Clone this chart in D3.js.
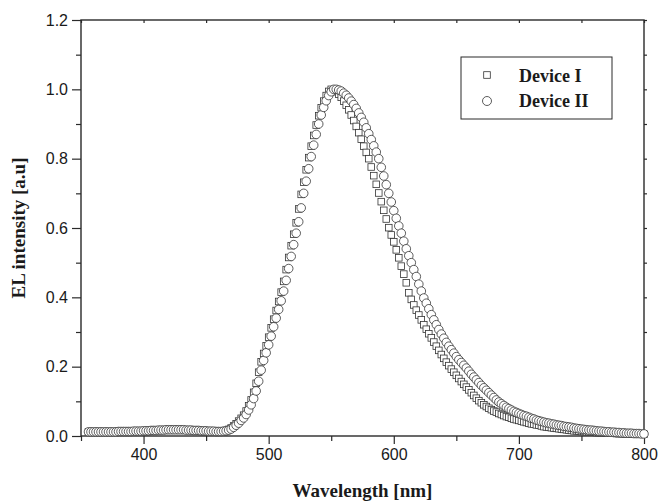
<!DOCTYPE html>
<html>
<head>
<meta charset="utf-8">
<script src="https://cdn.jsdelivr.net/npm/d3@7/dist/d3.min.js"></script>
<style>
  html, body { margin: 0; padding: 0; background: #fff; }
  svg { display: block; }
</style>
</head>
<body>
<svg id="chart" width="660" height="502"></svg>
<script>
// ---------------- data ----------------
const wavelengths = [
  356,358,360,362,364,366,368,370,372,374,
  376,378,380,382,384,386,388,390,392,394,
  396,398,400,402,404,406,408,410,412,414,
  416,418,420,422,424,426,428,430,432,434,
  436,438,440,442,444,446,448,450,452,454,
  456,458,460,462,464,466,468,470,472,474,
  476,478,480,482,484,486,488,490,492,494,
  496,498,500,502,504,506,508,510,512,514,
  516,518,520,522,524,526,528,530,532,534,
  536,538,540,542,544,546,548,550,552,554,
  556,558,560,562,564,566,568,570,572,574,
  576,578,580,582,584,586,588,590,592,594,
  596,598,600,602,604,606,608,610,612,614,
  616,618,620,622,624,626,628,630,632,634,
  636,638,640,642,644,646,648,650,652,654,
  656,658,660,662,664,666,668,670,672,674,
  676,678,680,682,684,686,688,690,692,694,
  696,698,700,702,704,706,708,710,712,714,
  716,718,720,722,724,726,728,730,732,734,
  736,738,740,742,744,746,748,750,752,754,
  756,758,760,762,764,766,768,770,772,774,
  776,778,780,782,784,786,788,790,792,794,
  796,798,800
];
const deviceI = [
  .012,.012,.012,.012,.012,.012,.012,.012,.012,.012,
  .012,.012,.013,.013,.013,.013,.013,.013,.014,.014,
  .014,.014,.015,.015,.015,.016,.016,.016,.017,.017,
  .017,.018,.018,.018,.018,.018,.018,.018,.018,.017,
  .017,.017,.016,.016,.016,.015,.015,.015,.014,.014,
  .014,.013,.013,.013,.014,.016,.019,.023,.029,.035,
  .043,.051,.060,.072,.087,.104,.126,.152,.184,.214,
  .238,.260,.285,.312,.337,.362,.388,.415,.446,.480,
  .515,.549,.582,.615,.655,.697,.732,.768,.803,.836,
  .867,.897,.924,.947,.966,.982,.994,1.000,.998,.993,
  .986,.977,.966,.954,.941,.926,.910,.893,.875,.856,
  .836,.818,.800,.776,.751,.726,.701,.676,.651,.626,
  .601,.580,.560,.537,.514,.490,.467,.442,.413,.394,
  .378,.363,.349,.335,.321,.308,.295,.283,.271,.259,
  .247,.235,.224,.213,.203,.193,.184,.175,.166,.157,
  .149,.141,.133,.125,.117,.109,.102,.096,.090,.085,
  .080,.076,.072,.069,.065,.062,.059,.056,.054,.051,
  .049,.047,.045,.043,.041,.039,.037,.035,.034,.032,
  .031,.029,.027,.026,.025,.024,.023,.022,.021,.020,
  .019,.018,.017,.016,.015,.015,.014,.013,.013,.012,
  .012,.011,.011,.010,.010,.009,.009,.009,.008,.008,
  .008,.007,.007,.007,.006,.006,.006,.006,.005,.005,
  .005,.005,.005
];
const deviceII = [
  .012,.012,.012,.012,.012,.012,.012,.012,.012,.012,
  .012,.012,.013,.013,.013,.013,.013,.013,.014,.014,
  .014,.014,.015,.015,.015,.016,.016,.016,.017,.017,
  .017,.018,.018,.018,.018,.018,.018,.018,.018,.017,
  .017,.017,.016,.016,.016,.015,.015,.015,.014,.014,
  .014,.013,.013,.013,.014,.015,.017,.020,.025,.031,
  .037,.045,.052,.062,.075,.090,.108,.130,.158,.190,
  .218,.240,.263,.288,.315,.340,.365,.390,.418,.449,
  .483,.518,.552,.585,.618,.658,.700,.735,.771,.806,
  .839,.870,.900,.926,.948,.967,.982,.993,1.000,1.000,
  .998,.995,.989,.983,.975,.966,.956,.945,.932,.919,
  .905,.889,.872,.855,.837,.819,.800,.775,.750,.725,
  .700,.675,.650,.628,.606,.585,.562,.540,.520,.500,
  .480,.460,.438,.418,.398,.383,.367,.350,.335,.321,
  .307,.294,.282,.270,.259,.249,.239,.229,.220,.212,
  .204,.196,.187,.178,.170,.162,.154,.146,.139,.132,
  .125,.118,.111,.104,.098,.093,.088,.083,.079,.075,
  .071,.068,.065,.062,.059,.057,.054,.051,.049,.046,
  .044,.042,.040,.038,.037,.035,.034,.032,.031,.030,
  .028,.027,.026,.025,.023,.022,.021,.020,.019,.018,
  .017,.017,.016,.015,.014,.014,.013,.012,.012,.011,
  .011,.010,.010,.009,.009,.008,.008,.008,.007,.007,
  .007,.006,.006
];
const seriesNames = ["Device I", "Device II"];
const xTicks = [400, 500, 600, 700, 800];
const xMinorTicks = [350, 450, 550, 650, 750];
const yTicks = [0.0, 0.2, 0.4, 0.6, 0.8, 1.0, 1.2];
const yMinorTicks = [0.1, 0.3, 0.5, 0.7, 0.9, 1.1];
const xTitle = "Wavelength [nm]";
const yTitle = "EL intensity [a.u]";

// ---------------- layout ----------------
const svg = d3.select("#chart");
const pL = 81, pR = 644, pT = 20, pB = 436;
const x = d3.scaleLinear().domain([350, 800]).range([pL, pR]);
const y = d3.scaleLinear().domain([0, 1.2]).range([pB, pT]);
const ink = "#2a2a2a";
const serif = "'Liberation Serif', 'Times New Roman', serif";
const sans = "'Liberation Sans', Arial, sans-serif";

// axes
const gx = svg.append("g").attr("transform", `translate(0,${pB})`)
  .call(d3.axisBottom(x).tickValues(xTicks).tickSize(8).tickPadding(5).tickFormat(d3.format("d")));
const gxm = svg.append("g").attr("transform", `translate(0,${pB})`)
  .call(d3.axisBottom(x).tickValues(xMinorTicks).tickSize(5).tickFormat(""));
const gy = svg.append("g").attr("transform", `translate(${pL},0)`)
  .call(d3.axisLeft(y).tickValues(yTicks).tickSize(9).tickPadding(4).tickFormat(d3.format(".1f")));
const gym = svg.append("g").attr("transform", `translate(${pL},0)`)
  .call(d3.axisLeft(y).tickValues(yMinorTicks).tickSize(5).tickFormat(""));
const gt = svg.append("g").attr("transform", `translate(0,${pT})`)
  .call(d3.axisBottom(x).tickValues(xTicks.concat(xMinorTicks)).tickSize(3).tickFormat(""));
const gr = svg.append("g").attr("transform", `translate(${pR},0)`)
  .call(d3.axisRight(y).tickValues(yTicks.concat(yMinorTicks)).tickSize(3).tickFormat(""));

[gx, gxm, gy, gym, gt, gr].forEach(g => {
  g.select(".domain").remove();
  g.selectAll(".tick line").attr("stroke", ink).attr("stroke-width", 1.2);
  g.selectAll(".tick text").attr("fill", "#1a1a1a")
    .style("font-family", sans).style("font-size", "16px");
});

// frame
svg.append("rect").attr("x", pL).attr("y", pT)
  .attr("width", pR - pL).attr("height", pB - pT)
  .attr("fill", "none").attr("stroke", ink).attr("stroke-width", 1.4);

// data markers
const dI = wavelengths.map((w, i) => ({ w, v: deviceI[i] }));
const dII = wavelengths.map((w, i) => ({ w, v: deviceII[i] }));
const sq = 6.6;
svg.append("g").selectAll("rect").data(dI).join("rect")
  .attr("x", d => x(d.w) - sq / 2).attr("y", d => y(d.v) - sq / 2)
  .attr("width", sq).attr("height", sq)
  .attr("fill", "#fff").attr("stroke", "#333").attr("stroke-width", 0.8);
svg.append("g").selectAll("circle").data(dII).join("circle")
  .attr("cx", d => x(d.w)).attr("cy", d => y(d.v)).attr("r", 4.3)
  .attr("fill", "#fff").attr("stroke", "#333").attr("stroke-width", 0.8);

// legend
const lg = svg.append("g");
lg.append("rect").attr("x", 461).attr("y", 57).attr("width", 151).attr("height", 62)
  .attr("fill", "#fff").attr("stroke", ink).attr("stroke-width", 1);
lg.append("rect").attr("x", 487 - 3.3).attr("y", 75 - 3.3).attr("width", 6.6).attr("height", 6.6)
  .attr("fill", "#fff").attr("stroke", "#333").attr("stroke-width", 0.8);
lg.append("circle").attr("cx", 487).attr("cy", 101).attr("r", 4.5)
  .attr("fill", "#fff").attr("stroke", "#333").attr("stroke-width", 0.8);
lg.selectAll("text").data(seriesNames).join("text")
  .attr("x", 519).attr("y", (d, i) => 82 + i * 25)
  .attr("fill", "#1a1a1a")
  .style("font-family", serif).style("font-weight", "bold").style("font-size", "18px")
  .text(d => d);

// axis titles
svg.append("text").attr("x", (pL + pR) / 2).attr("y", 497)
  .attr("text-anchor", "middle").attr("fill", "#1a1a1a")
  .style("font-family", serif).style("font-weight", "bold").style("font-size", "19px")
  .text(xTitle);
svg.append("text").attr("transform", `translate(25,${(pT + pB) / 2}) rotate(-90)`)
  .attr("text-anchor", "middle").attr("fill", "#1a1a1a")
  .style("font-family", serif).style("font-weight", "bold").style("font-size", "19px")
  .text(yTitle);
</script>
</body>
</html>
